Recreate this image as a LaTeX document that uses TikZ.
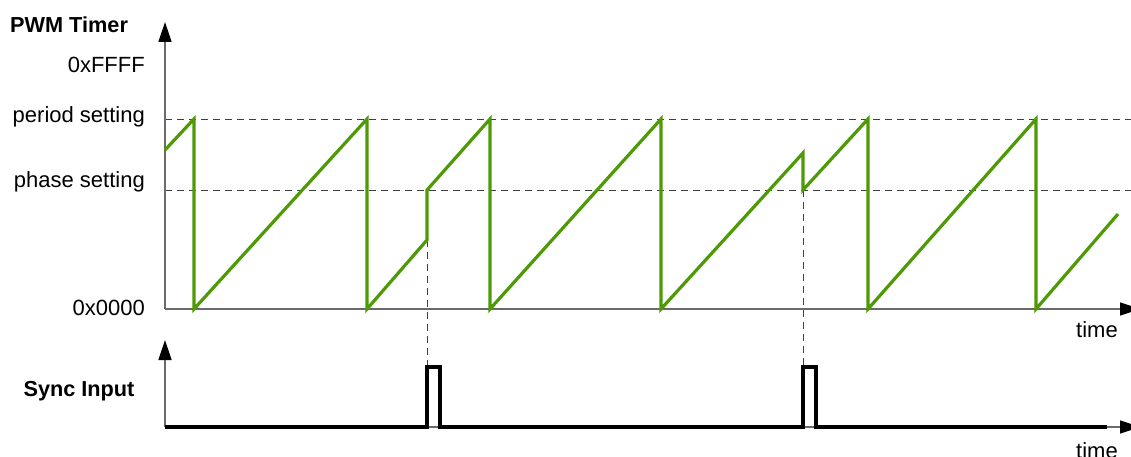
\documentclass[tikz,border=0pt]{standalone}
\usepackage{fontspec}
\setmainfont{Liberation Sans}
\usetikzlibrary{arrows.meta}
\definecolor{wave}{HTML}{4E9A06}
\definecolor{axisgray}{HTML}{6A6A6A}
\begin{document}
\begin{tikzpicture}[x=1pt,y=-1pt,
  lbl/.style={font=\fontsize{22}{26}\selectfont, inner sep=0pt},
  blbl/.style={font=\fontsize{21.7}{26}\selectfont\bfseries, inner sep=0pt},
  axisline/.style={draw=axisgray, line width=1.4pt, -{Triangle[length=20pt,width=13pt,color=black]}},
  guide/.style={draw=black!75, line width=0.9pt, dash pattern=on 7pt off 5pt},
  wavepath/.style={draw=wave, line width=3.2pt, line join=miter},
  syncpath/.style={draw=black, line width=3.5pt, line join=miter}]
\useasboundingbox (0,0) rectangle (1131,457);

% coordinates
\coordinate (o1) at (165,309);
\coordinate (ytop1) at (165,22);
\coordinate (xend1) at (1140,309);
\coordinate (o2) at (165,427);
\coordinate (ytop2) at (165,340);
\coordinate (xend2) at (1140,427);
\coordinate (p1) at (1131,119);
\coordinate (p0) at (165,119);
\coordinate (h0) at (165,190);
\coordinate (h1) at (1131,190);
\coordinate (s1) at (427,240);
\coordinate (s1b) at (427,367);
\coordinate (s2) at (803,190);
\coordinate (s2b) at (803,367);

% guides
\draw[guide] (p0) -- (p1);
\draw[guide] (h0) -- (h1);
\draw[guide] (s1) -- (s1b);
\draw[guide] (s2) -- (s2b);

% axes
\draw[axisline] (o1) -- (ytop1);
\draw[axisline] (o1) -- (xend1);
\draw[axisline] (o2) -- (ytop2);
\draw[axisline] (o2) -- (xend2);

% waveform
\draw[wavepath] (165,150) -- (194,119) -- (194,309) -- (367,119) -- (367,309)
  -- (s1) -- (427,190) -- (490,119) -- (490,309) -- (661,119) -- (661,309)
  -- (803,153) -- (s2) -- (868,119) -- (868,309) -- (1036,119) -- (1036,309)
  -- (1118,214);

% sync signal
\draw[syncpath] (o2) -- (427,427) -- (s1b) -- (440,367) -- (440,427)
  -- (803,427) -- (s2b) -- (816,367) -- (816,427) -- (1107,427);

% labels
\node[blbl, anchor=west] (pwm) at (10,25) {PWM Timer};
\node[lbl, anchor=east] (ffff) at (145,65) {0xFFFF};
\node[lbl, anchor=east] (per) at (145,117) {period setting};
\node[lbl, anchor=east] (pha) at (145,182) {phase setting};
\node[lbl, anchor=east] (zero) at (145,308) {0x0000};
\node[blbl] (sync) at (79,391) {Sync Input};
\node[lbl] (t1) at (1097,330) {time};
\node[lbl] (t2) at (1097,451) {time};
\end{tikzpicture}
\end{document}
